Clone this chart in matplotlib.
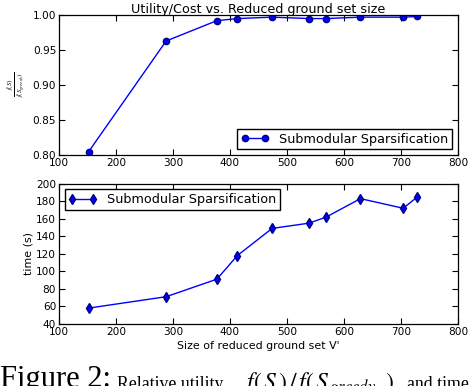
import numpy as np
import matplotlib
matplotlib.use("Agg")
import matplotlib.pyplot as plt

# ─── Data ──────────────────────────────────────────────────────────────────────
sizes = [152, 288, 377, 413, 474, 539, 569, 629, 704, 729]
rel_utility = [0.805, 0.963, 0.992, 0.995, 0.997, 0.995, 0.995, 0.997, 0.997, 0.998]
times = [58, 71, 91, 118, 149, 155, 162, 183, 172, 185]

label = "Submodular Sparsification"

plt.rcParams["font.family"] = "DejaVu Sans"
plt.rcParams["mathtext.fontset"] = "stix"

fig = plt.figure(figsize=(4.74, 3.86), dpi=100)
ax1 = fig.add_axes([0.1245, 0.598, 0.8415, 0.363])
ax2 = fig.add_axes([0.1245, 0.161, 0.8415, 0.363])


def style(ax):
    ax.tick_params(direction="in", top=True, right=True, labelsize=7.6, length=4, pad=2)
    for s in ax.spines.values():
        s.set_linewidth(0.9)


# ─── Top: relative utility ────────────────────────────────────────────────────
ax1.plot(sizes, rel_utility, "b-o", lw=1, markersize=4.5, markeredgecolor="#000080",
         label=label)
ax1.set_xlim(100, 800)
ax1.set_ylim(0.80, 1.00)
ax1.set_yticks([0.80, 0.85, 0.90, 0.95, 1.00])
ax1.set_yticklabels(["0.80", "0.85", "0.90", "0.95", "1.00"])
ax1.set_title("Utility/Cost vs. Reduced ground set size", fontsize=9.2, pad=1.5)
ax1.set_ylabel(r"$\frac{f(S)}{f(S_{greedy})}$", fontsize=7, labelpad=4)
ax1.legend(loc="lower right", numpoints=2, fontsize=9.2, fancybox=False,
           edgecolor="black", framealpha=1, borderpad=0.3, handlelength=2.2,
           borderaxespad=0.45)
style(ax1)

# ─── Bottom: time ─────────────────────────────────────────────────────────────
ax2.plot(sizes, times, "b-d", lw=1, markersize=5, markeredgecolor="#000080",
         label=label)
ax2.set_xlim(100, 800)
ax2.set_ylim(40, 200)
ax2.set_yticks(np.arange(40, 201, 20))
ax2.set_xlabel("Size of reduced ground set V'", fontsize=7.9, labelpad=3)
ax2.set_ylabel("time (s)", fontsize=7.9, labelpad=2)
ax2.legend(loc="upper left", numpoints=2, fontsize=9.2, fancybox=False,
           edgecolor="black", framealpha=1, borderpad=0.3, handlelength=2.2,
           borderaxespad=0.45)
style(ax2)

# ─── Caption (cut off at the bottom) ──────────────────────────────────────────
cap = dict(family="Liberation Serif", ha="left", va="baseline")
fig.text(0.0, -0.003, "Figure 2:", fontsize=22, **cap)
fig.text(0.247, -0.008, "Relative utility,", fontsize=12.8, **cap)
fig.text(0.513, -0.010, r"$f(\,S\,)\,/\,f(\,S_{\,greedy}\;\;)$", fontsize=17, **cap)
fig.text(0.859, -0.008, "and time", fontsize=12.8, **cap)

fig.savefig("out.png", dpi=100)
